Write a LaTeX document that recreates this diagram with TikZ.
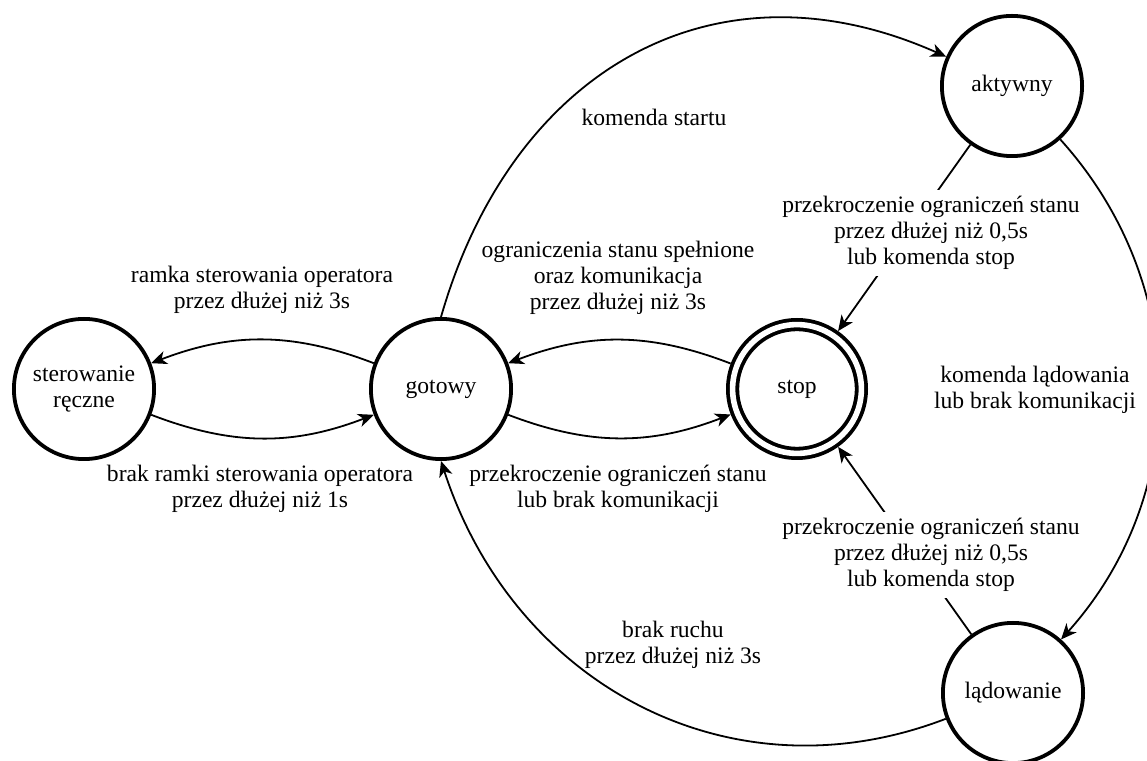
\documentclass[tikz,border=0pt]{standalone}
\usepackage{fontspec}
\setmainfont{Liberation Serif}
\usetikzlibrary{arrows.meta}
\begin{document}
\begin{tikzpicture}[x=0.5pt,y=0.5pt,
  every node/.style={font=\fontsize{11.8}{13}\selectfont},
  statenode/.style={circle,draw,line width=1.9pt,minimum size=70.1pt,inner sep=0pt,align=center},
  stopstate/.style={circle,draw,line width=1.9pt,double,double distance=2.8pt,
    minimum size=64.4pt,inner sep=0pt,outer sep=3.3pt},
  trans/.style={line width=0.9pt,-{Stealth[length=7.8pt,width=6.8pt,inset=2.3pt]}},
  lbl/.style={align=center},
  lblw/.style={align=center,fill=white}]

% canvas
\path[use as bounding box] (0,0) rectangle (1147,761);
\fill[white] (0,0) rectangle (1147,761);
\clip (0,0) rectangle (1147,761);

% states
\node[statenode] (S) at (84,372) {sterowanie\\ręczne};
\node[statenode] (G) at (441,372) {gotowy};
\node[stopstate] (T) at (797,372) {stop};
\node[statenode] (A) at (1012,675) {aktywny};
\node[statenode] (L) at (1013,68) {lądowanie};

% transitions
\draw[trans] (G) to[bend right=21] (S);
\draw[trans] (S) to[bend right=21] (G);
\draw[trans] (T) to[bend right=21] (G);
\draw[trans] (G) to[bend right=21] (T);
\draw[trans] (G.north) to[out=74,in=156,looseness=1.15] (A);
\draw[trans] (A) to[bend left=42] (L);
\draw[trans] (L) to[out=201,in=-72,looseness=1.05] (G.south);
\draw[trans] (A) -- (T);
\draw[trans] (L) -- (T);

% transition labels
\node[lbl] (lGS) at (262,471) {ramka sterowania operatora\\przez dłużej niż 3s};
\node[lbl] (lSG) at (260,272) {brak ramki sterowania operatora\\przez dłużej niż 1s};
\node[lbl] (lTG) at (618,483.5) {ograniczenia stanu spełnione\\oraz komunikacja\\przez dłużej niż 3s};
\node[lbl] (lGT) at (618,272) {przekroczenie ograniczeń stanu\\lub brak komunikacji};
\node[lbl] (lGA) at (654,644) {komenda startu};
\node[lblw] (lAT) at (931,528) {przekroczenie ograniczeń stanu\\przez dłużej niż 0,5s\\lub komenda stop};
\node[lblw] (lLT) at (931,206) {przekroczenie ograniczeń stanu\\przez dłużej niż 0,5s\\lub komenda stop};
\node[lbl] (lAL) at (1035,371.5) {komenda lądowania\\lub brak komunikacji};
\node[lbl] (lLG) at (673,116) {brak ruchu\\przez dłużej niż 3s};
\end{tikzpicture}
\end{document}
